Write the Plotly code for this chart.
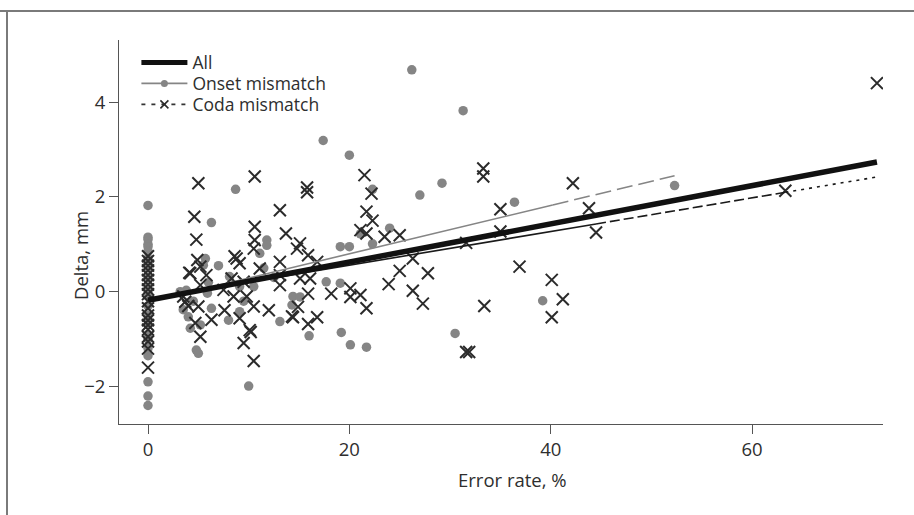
import plotly.graph_objects as go
import numpy as np

# ---------------- data ----------------
onset_x = [0]*24 + [
    8.7, 6.3, 11.8, 11.8, 5.7, 5.5, 11.1, 3.2, 3.8, 5.9, 8.1, 9.1, 10.5, 3.5, 4.0, 4.2,
    5.2, 6.3, 9.1, 13.1, 14.4, 14.3, 4.8, 5.0, 10.0, 26.2, 31.3, 17.4, 20.0, 29.2, 27.0,
    36.4, 22.3, 24.0, 19.1, 20.0, 22.3, 21.1, 17.7, 19.1, 15.1, 16.0, 19.2, 20.1, 21.7,
    30.5, 39.2, 52.3, 7.0, 4.5, 6.0, 9.5, 11.5, 8.0, 12.5]
onset_y = [1.82, 1.15, 1.1, 1.0, 0.95, 0.85, 0.7, 0.5, 0.3, 0.1, -0.1, -0.3, -0.5, -0.7,
           -0.9, -1.0, -1.2, -1.35, -1.9, -2.2, -2.4, 0.6, 0.0, -0.6] + [
    2.16, 1.46, 1.09, 0.98, 0.70, 0.56, 0.81, 0.00, 0.03, -0.03, 0.32, 0.11, 0.11, -0.38,
    -0.53, -0.77, -0.70, -0.35, -0.42, -0.63, -0.10, -0.28, -1.23, -1.30, -1.99, 4.68,
    3.82, 3.19, 2.88, 2.29, 2.04, 1.89, 2.16, 1.34, 0.95, 0.95, 1.01, 1.22, 0.21, 0.18,
    -0.11, -0.93, -0.86, -1.12, -1.17, -0.88, -0.19, 2.24, 0.55, -0.2, 0.2, -0.2, 0.5,
    -0.6, 0.3]

coda_x = [0]*19 + [
    5.0, 4.6, 4.8, 4.9, 4.1, 5.2, 5.8, 5.2, 3.7, 5.0, 4.7, 6.3, 5.2, 10.6, 10.6, 10.6,
    10.5, 8.6, 8.8, 9.1, 13.1, 13.7, 14.8, 13.1, 11.1, 8.3, 9.5, 7.5, 8.5, 7.6, 9.8,
    10.5, 12.0, 13.1, 9.1, 10.1, 10.2, 9.5, 10.5, 14.3, 15.8, 15.8, 21.5, 33.3, 33.3,
    42.2, 22.2, 21.7, 22.3, 21.1, 21.7, 23.5, 25.0, 35.0, 35.0, 15.1, 31.6, 15.9, 16.8,
    13.1, 15.1, 16.1, 15.9, 18.2, 20.1, 20.1, 21.1, 21.7, 23.9, 25.0, 26.3, 27.8, 26.3,
    27.3, 14.9, 14.4, 15.9, 16.8, 36.9, 40.1, 41.2, 40.1, 33.4, 31.6, 31.9, 72.4, 43.8,
    44.5, 63.3, 4.2, 3.5, 4.0]
coda_y = [0.75, 0.65, 0.55, 0.45, 0.35, 0.25, 0.15, 0.05, -0.05, -0.2, -0.35, -0.5,
          -0.6, -0.7, -0.8, -0.95, -1.05, -1.2, -1.6] + [
    2.29, 1.58, 1.10, 0.67, 0.40, 0.53, 0.35, 0.14, -0.21, -0.31, -0.66, -0.59, -0.95,
    2.43, 1.37, 1.09, 0.91, 0.75, 0.70, 0.60, 1.72, 1.23, 0.91, 0.63, 0.49, 0.28, 0.21,
    0.04, -0.10, -0.39, -0.10, -0.31, -0.39, 0.14, -0.56, -0.81, -0.85, -1.08, -1.46,
    -0.52, 2.10, 2.20, 2.46, 2.60, 2.43, 2.29, 2.07, 1.69, 1.50, 1.30, 1.23, 1.16, 1.19,
    1.74, 1.27, 1.02, 1.03, 0.77, 0.63, 0.35, 0.28, 0.28, -0.04, -0.04, 0.07, -0.11,
    -0.07, -0.35, 0.16, 0.44, 0.70, 0.39, 0.02, -0.25, -0.32, -0.54, -0.68, -0.54, 0.53,
    0.25, -0.16, -0.54, -0.30, -1.27, -1.27, 4.40, 1.76, 1.25, 2.13, 0.39, -0.1, -0.3]

# regression lines: intercept, slope, and x breakpoints of the drawn segments
all_fit = (-0.18, 0.0403)
all_breaks = [0, 72.4]
onset_fit = (-0.22, 0.051)
onset_breaks = [0, 40.2, 52.3]          # solid, dashed
coda_fit = (-0.15, 0.0355)
coda_breaks = [0, 44.5, 63.3, 72.4]     # solid, dashed, dotted

x_ticks = [0, 20, 40, 60]
y_ticks = [-2, 0, 2, 4]
y_ticktext = ["\u22122", "0", "2", "4"]
x_title = "Error rate, %"
y_title = "Delta, mm"

FONT = "Open Sans"
GRAY = "#858585"
DARK = "#2b2b2b"
TXT = "#2e2e2e"

# plot-area geometry (pixels) used to place titles/frame in paper units
W, H = 914, 515
ML, MR, MT, MB = 119, 31, 40, 91
PW, PH = W - ML - MR, H - MT - MB

def px(xp):
    return (xp - ML) / PW

def py(yp):
    return (H - MB - yp) / PH

fig = go.Figure()

fig.add_trace(go.Scatter(x=onset_x, y=onset_y, mode="markers", showlegend=False,
                         marker=dict(symbol="circle", size=9.5, color=GRAY)))
fig.add_trace(go.Scatter(x=coda_x, y=coda_y, mode="markers", showlegend=False,
                         marker=dict(symbol="x-thin", size=12, color=DARK,
                                     line=dict(width=2, color=DARK))))

def seg(fit, a, b):
    xs = np.array([a, b], dtype=float)
    return xs, fit[0] + fit[1] * xs

# onset line
styles_on = ["solid", "16px,6px"]
for i, st in enumerate(styles_on):
    xs, ys = seg(onset_fit, onset_breaks[i], onset_breaks[i+1])
    fig.add_trace(go.Scatter(x=xs, y=ys, mode="lines", showlegend=False,
                             line=dict(color=GRAY, width=1.6, dash=st)))
# coda line
styles_co = ["solid", "10px,4px", "3px,5px"]
for i, st in enumerate(styles_co):
    xs, ys = seg(coda_fit, coda_breaks[i], coda_breaks[i+1])
    fig.add_trace(go.Scatter(x=xs, y=ys, mode="lines", showlegend=False,
                             line=dict(color="#1a1a1a", width=1.6, dash=st)))
# all line
xs, ys = seg(all_fit, all_breaks[0], all_breaks[1])
fig.add_trace(go.Scatter(x=xs, y=ys, mode="lines", showlegend=False,
                         line=dict(color="#111111", width=5.5)))

# legend entries (one legend per row so the rows can sit tightly)
fig.add_trace(go.Scatter(x=[None], y=[None], mode="lines", name="All", legend="legend",
                         line=dict(color="#111111", width=5)))
fig.add_trace(go.Scatter(x=[None], y=[None], mode="lines+markers", name="Onset mismatch",
                         legend="legend2", line=dict(color=GRAY, width=1.6),
                         marker=dict(symbol="circle", size=7, color=GRAY)))
fig.add_trace(go.Scatter(x=[None], y=[None], mode="lines+markers", name="Coda mismatch",
                         legend="legend3",
                         line=dict(color="#333333", width=1.6, dash="4px,6px"),
                         marker=dict(symbol="x-thin", size=8, color=DARK,
                                     line=dict(width=1.6, color=DARK))))

axis_common = dict(showgrid=False, zeroline=False, showline=True, linecolor="#555555",
                   linewidth=1, ticks="outside", ticklen=9, tickcolor="#555555",
                   tickfont=dict(family=FONT, size=18.5, color=TXT))

def leg(yp):
    return dict(x=px(136.4), y=py(yp), xanchor="left", yanchor="middle",
                bgcolor="rgba(0,0,0,0)", borderwidth=0,
                font=dict(family=FONT, size=17.5, color=TXT), itemwidth=46)

fig.update_layout(
    width=W, height=H,
    margin=dict(l=ML, r=MR, t=MT, b=MB),
    paper_bgcolor="white", plot_bgcolor="white",
    font=dict(family=FONT, color=TXT),
    xaxis=dict(range=[-2.88, 73.0], tickvals=x_ticks, ticktext=[str(v) for v in x_ticks],
               **axis_common),
    yaxis=dict(range=[-2.79, 5.31], tickvals=y_ticks, ticktext=y_ticktext,
               **axis_common),
    legend=leg(62.5),
    legend2=leg(83.5),
    legend3=leg(104.5),
    annotations=[
        dict(text=x_title, xref="paper", yref="paper", x=px(512), y=py(479),
             xanchor="center", yanchor="middle", showarrow=False,
             font=dict(family=FONT, size=18.5, color=TXT)),
        dict(text=y_title, xref="paper", yref="paper", x=px(80), y=py(256),
             xanchor="center", yanchor="middle", showarrow=False, textangle=-90,
             font=dict(family=FONT, size=18.5, color=TXT)),
    ],
    shapes=[
        dict(type="line", xref="paper", yref="paper", x0=px(0), x1=px(W),
             y0=py(11), y1=py(11), line=dict(color="#7a7a7a", width=2)),
        dict(type="line", xref="paper", yref="paper", x0=px(7), x1=px(7),
             y0=py(11), y1=py(H), line=dict(color="#7a7a7a", width=2)),
    ],
)

fig.write_html("out.html")
